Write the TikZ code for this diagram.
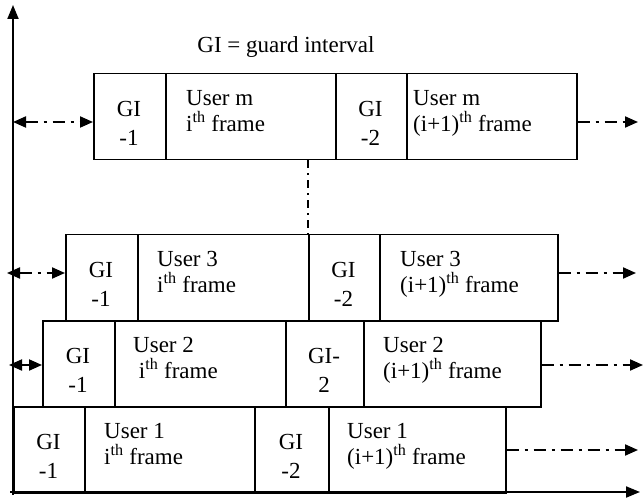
\documentclass[tikz,border=0pt]{standalone}
\usepackage{fontspec}
\setmainfont{Liberation Serif}
\usetikzlibrary{arrows.meta}
\begin{document}
\begin{tikzpicture}[x=1pt,y=-1pt,
  cell/.style={draw, line width=1.5pt, rectangle, minimum height=86pt, inner sep=0pt, anchor=north west},
  txt/.style={font=\rmfamily\fontsize{23}{26}\selectfont, inner sep=0pt},
  gitxt/.style={txt, font=\rmfamily\fontsize{23}{29}\selectfont, align=center, anchor=north},
  usrtxt/.style={txt, align=left, anchor=north west},
  ddline/.style={line width=2pt, dash pattern=on 12pt off 6pt on 3pt off 6pt},
  tipr/.style={-{Triangle[length=13pt,width=11pt]}},
  tiplr/.style={{Triangle[length=13pt,width=11pt]}-{Triangle[length=13pt,width=11pt]}},
  axis/.style={line width=2pt, -{Triangle[length=14pt,width=11pt]}}
]
\useasboundingbox (0,0) rectangle (644,502);

% title
\node[txt] (title) at (286,47) {GI = guard interval};

% row m
\node[cell, minimum width=72pt] (m1) at (93,73) {};
\node[cell, minimum width=170pt] (m2) at (165,73) {};
\node[cell, minimum width=71pt] (m3) at (335,73) {};
\node[cell, minimum width=170pt] (m4) at (406,73) {};
\node[gitxt] (m1t) at (129,101) {GI\\-1};
\node[usrtxt] (m2t) at (186,90) {User m\\i\textsuperscript{th} frame};
\node[gitxt] (m3t) at (370.5,101) {GI\\-2};
\node[usrtxt] (m4t) at (413,90) {User m\\(i+1)\textsuperscript{th} frame};

% row 3
\node[cell, minimum width=72pt] (c1) at (65,234) {};
\node[cell, minimum width=171pt] (c2) at (137,234) {};
\node[cell, minimum width=71pt] (c3) at (308,234) {};
\node[cell, minimum width=178pt] (c4) at (379,234) {};
\node[gitxt] (c1t) at (101,262) {GI\\-1};
\node[usrtxt] (c2t) at (157,251) {User 3\\i\textsuperscript{th} frame};
\node[gitxt] (c3t) at (343.5,262) {GI\\-2};
\node[usrtxt] (c4t) at (400,251) {User 3\\(i+1)\textsuperscript{th} frame};

% row 2
\node[cell, minimum width=72pt] (b1) at (42,320) {};
\node[cell, minimum width=171pt] (b2) at (114,320) {};
\node[cell, minimum width=78pt] (b3) at (285,320) {};
\node[cell, minimum width=177pt] (b4) at (363,320) {};
\node[gitxt] (b1t) at (78,348) {GI\\-1};
\node[usrtxt] (b2t) at (133,337) {User 2\\\ i\textsuperscript{th} frame};
\node[gitxt] (b3t) at (324,348) {GI-\\2};
\node[usrtxt] (b4t) at (383,337) {User 2\\(i+1)\textsuperscript{th} frame};

% row 1
\node[cell, minimum width=71pt] (a1) at (13,406) {};
\node[cell, minimum width=170pt] (a2) at (84,406) {};
\node[cell, minimum width=74pt] (a3) at (254,406) {};
\node[cell, minimum width=177pt] (a4) at (328,406) {};
\node[gitxt] (a1t) at (48.5,434) {GI\\-1};
\node[usrtxt] (a2t) at (104,423) {User 1\\i\textsuperscript{th} frame};
\node[gitxt] (a3t) at (291,434) {GI\\-2};
\node[usrtxt] (a4t) at (347,423) {User 1\\(i+1)\textsuperscript{th} frame};

% axes
\coordinate (o) at (13,495);
\coordinate (ytop) at (13,5);
\coordinate (xo) at (10,492);
\coordinate (xend) at (640,492);
\draw[axis] (o) -- (ytop);
\draw[axis] (xo) -- (xend);

% arrows
\coordinate (lm) at (13,122);
\coordinate (rm) at (638,122);
\draw[ddline, tiplr] (lm) -- (m1.west |- lm);
\draw[ddline, tipr] (m4.east |- rm) -- (rm);

\coordinate (lc) at (7,273);
\coordinate (rc) at (636,273);
\draw[ddline, tiplr] (lc) -- (c1.west |- lc);
\draw[ddline, tipr] (c4.east |- rc) -- (rc);

\coordinate (lb) at (9,365);
\coordinate (rb) at (643,365);
\draw[ddline, tiplr] (lb) -- (b1.west |- lb);
\draw[ddline, tipr] (b4.east |- rb) -- (rb);

\coordinate (ra) at (638,450);
\draw[ddline, tipr] (a4.east |- ra) -- (ra);

% vertical dash-dot link
\draw[line width=1.3pt, dash pattern=on 8pt off 5pt on 2pt off 5pt] (c3.north west |- m1.south) -- (c3.north west);
\end{tikzpicture}
\end{document}
